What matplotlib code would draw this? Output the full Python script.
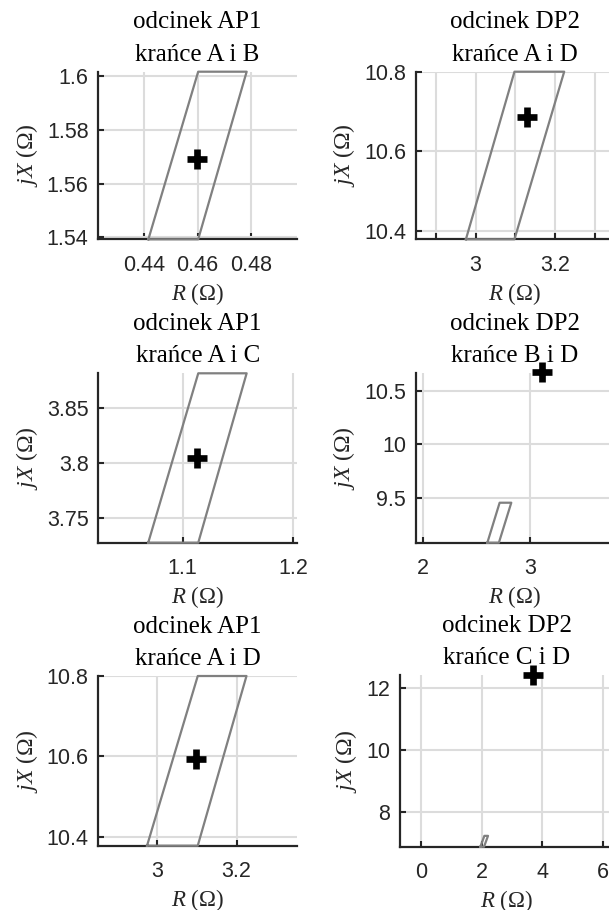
import matplotlib
matplotlib.use('Agg')
import matplotlib.pyplot as plt

plt.rcParams['mathtext.fontset'] = 'custom'
plt.rcParams['mathtext.it'] = 'Liberation Serif:italic'
plt.rcParams['mathtext.rm'] = 'Liberation Serif'

# panels: left column odcinek AP1, right column odcinek DP2
titles = ['odcinek AP1\nkrańce A i B', 'odcinek DP2\nkrańce A i D',
          'odcinek AP1\nkrańce A i C', 'odcinek DP2\nkrańce B i D',
          'odcinek AP1\nkrańce A i D', 'odcinek DP2\nkrańce C i D']

# characteristic area (quadrilateral) vertices, R and X in ohm
area_r = [[0.4415, 0.4602, 0.4784, 0.4602],
          [2.9756, 3.098, 3.2234, 3.098],
          [1.0689, 1.1141, 1.1578, 1.1141],
          [2.600, 2.708, 2.824, 2.715],
          [2.975, 3.1025, 3.225, 3.1025],
          [1.96, 2.08, 2.21, 2.09]]
area_x = [[1.5393, 1.5393, 1.6016, 1.6016],
          [10.379, 10.379, 10.8, 10.8],
          [3.7278, 3.7278, 3.8818, 3.8818],
          [9.0794, 9.0794, 9.453, 9.453],
          [10.3775, 10.3775, 10.8, 10.8],
          [6.89, 6.89, 7.24, 7.24]]

# measured impedance
point_r = [0.4598, 3.13, 1.1126, 3.109, 3.0983, 3.69]
point_x = [1.569, 10.687, 3.8045, 10.678, 10.594, 12.43]

xlims = [(0.4227, 0.4973), (2.849, 3.349), (1.0238, 1.2033),
         (1.929, 3.786), (2.8525, 3.352), (-0.684, 6.32)]
ylims = [(1.5393, 1.6016), (10.379, 10.8), (3.7278, 3.8818),
         (9.0794, 10.6626), (10.3775, 10.8), (6.89, 12.43)]

xticks = [[0.44, 0.46, 0.48], [3.0, 3.2], [1.1, 1.2], [2, 3], [3.0, 3.2], [0, 2, 4, 6]]
xticklabels = [['0.44', '0.46', '0.48'], ['3', '3.2'], ['1.1', '1.2'],
               ['2', '3'], ['3', '3.2'], ['0', '2', '4', '6']]
xminor = [[], [2.9, 3.1, 3.3], [], [], [], []]
yticks = [[1.54, 1.56, 1.58, 1.6], [10.4, 10.6, 10.8], [3.75, 3.8, 3.85],
          [9.5, 10, 10.5], [10.4, 10.6, 10.8], [8, 10, 12]]
yticklabels = [['1.54', '1.56', '1.58', '1.6'], ['10.4', '10.6', '10.8'],
               ['3.75', '3.8', '3.85'], ['9.5', '10', '10.5'],
               ['10.4', '10.6', '10.8'], ['8', '10', '12']]

W, H = 609, 910
# axes boxes in pixels: left, right, top, bottom
boxes = [(98.3, 297, 71.7, 239.3), (415.7, 614, 71.7, 239.3),
         (98.3, 297, 373.3, 542.7), (415.7, 614, 373.3, 542.7),
         (98.3, 297, 676, 845.7), (400, 613, 675, 846.7)]

dark = '#262626'
fig = plt.figure(figsize=(W / 100, H / 100), dpi=100)

for i in range(6):
    l, r, t, b = boxes[i]
    ax = fig.add_axes([l / W, 1 - b / H, (r - l) / W, (b - t) / H])
    ax.set_xlim(xlims[i])
    ax.set_ylim(ylims[i])
    ax.set_xticks(xticks[i])
    ax.set_xticklabels(xticklabels[i])
    ax.set_xticks(xminor[i], minor=True)
    ax.set_yticks(yticks[i])
    ax.set_yticklabels(yticklabels[i])
    ax.grid(True, which='both', color='#dcdcdc', lw=1.5)
    ax.set_axisbelow(True)
    for s in ['top', 'right']:
        ax.spines[s].set_visible(False)
    for s in ['left', 'bottom']:
        ax.spines[s].set_color(dark)
        ax.spines[s].set_linewidth(1.6)
    ax.tick_params(which='both', direction='in', length=4, width=1.5, colors=dark,
                   labelsize=15.5)
    ax.tick_params(axis='x', pad=11)
    ax.tick_params(axis='y', pad=7)
    for lab in ax.get_xticklabels() + ax.get_yticklabels():
        lab.set_fontfamily('Liberation Sans')

    rr = area_r[i] + area_r[i][:1]
    xx = area_x[i] + area_x[i][:1]
    ax.plot(rr, xx, color='#808080', lw=1.6, clip_on=False, zorder=3)
    ax.plot(point_r[i], point_x[i], marker='+', ms=15, mew=4.8, color='k',
            clip_on=False, zorder=5)

    ax.set_title(titles[i], family='Liberation Serif', fontsize=18,
                 linespacing=1.6, pad=8)
    ax.set_xlabel('$R$ (Ω)', family='Liberation Serif', fontsize=16.5,
                  color=dark, labelpad=4)
    ax.set_ylabel('$jX$ (Ω)', family='Liberation Serif', fontsize=17,
                  color=dark, labelpad=5)

fig.savefig('out.png', dpi=100)
